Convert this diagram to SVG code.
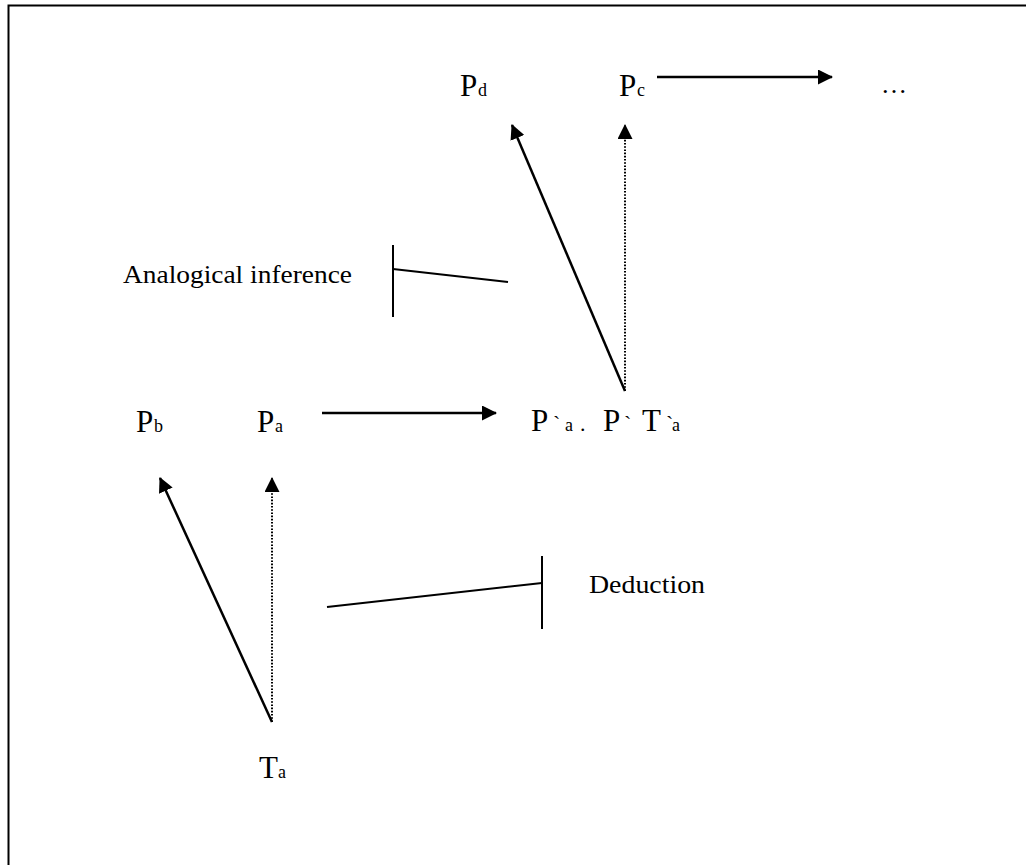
<svg xmlns="http://www.w3.org/2000/svg" width="1026" height="865" viewBox="0 0 1026 865">
<defs>
<style>
.t{font-family:"Liberation Serif","Times New Roman",serif;fill:#000}
.big{font-size:31px}
.sub{font-size:18px}
.lbl{font-size:26px}
.solid{stroke:#000;stroke-width:2.5;fill:none}
.dot{stroke:#000;stroke-width:2;fill:none;stroke-dasharray:1.6 1.6}
.thin{stroke:#000;stroke-width:2;fill:none}
</style>
<marker id="ah" markerUnits="userSpaceOnUse" markerWidth="15" markerHeight="15" refX="14" refY="7.5" orient="auto">
<path d="M0,0 L15,7.5 L0,15 z" fill="#000"/>
</marker>
</defs>
<rect x="0" y="0" width="1026" height="865" fill="#fff"/>
<rect x="8.5" y="5.5" width="1030" height="875" fill="none" stroke="#000" stroke-width="2"/>

<g id="Pd"><text class="t big" x="460" y="96">P<tspan class="sub" x="478">d</tspan></text></g>
<g id="Pc"><text class="t big" x="619" y="96">P<tspan class="sub" x="637">c</tspan></text></g>
<g id="ellipsis"><text class="t" style="font-size:26px" x="881" y="93">…</text></g>
<g id="Pb"><text class="t big" x="136" y="432">P<tspan class="sub" x="154">b</tspan></text></g>
<g id="Pa"><text class="t big" x="257" y="432">P<tspan class="sub" x="275">a</tspan></text></g>
<g id="Ppa"><text class="t big" x="531" y="431">P<tspan style="font-size:22px" x="553">`</tspan><tspan class="sub" x="565">a</tspan><tspan style="font-size:22px" x="580">.</tspan><tspan x="603">P</tspan><tspan style="font-size:22px" x="624">`</tspan><tspan x="642">T</tspan><tspan style="font-size:22px" x="666">`</tspan><tspan class="sub" x="672">a</tspan></text></g>
<g id="Ta"><text class="t big" x="259" y="778">T<tspan class="sub" x="278">a</tspan></text></g>
<g id="analogical"><text class="t lbl" x="123" y="283" textLength="229" lengthAdjust="spacingAndGlyphs">Analogical inference</text></g>
<g id="deduction"><text class="t lbl" x="589" y="593" textLength="116" lengthAdjust="spacingAndGlyphs">Deduction</text></g>

<g id="connectors">
<line class="solid" x1="657" y1="77" x2="832" y2="77" marker-end="url(#ah)"/>
<line class="solid" x1="625" y1="391" x2="512" y2="125" marker-end="url(#ah)"/>
<line class="dot" x1="625" y1="391" x2="625" y2="125" marker-end="url(#ah)"/>
<line class="solid" x1="322" y1="413" x2="496" y2="413" marker-end="url(#ah)"/>
<line class="solid" x1="272" y1="722" x2="160" y2="478" marker-end="url(#ah)"/>
<line class="dot" x1="272" y1="722" x2="272" y2="478" marker-end="url(#ah)"/>
<line class="thin" x1="393" y1="245" x2="393" y2="317"/>
<line class="thin" x1="393" y1="269" x2="508" y2="282"/>
<line class="thin" x1="542" y1="556" x2="542" y2="629"/>
<line class="thin" x1="327" y1="607" x2="542" y2="583"/>
</g>
</svg>
